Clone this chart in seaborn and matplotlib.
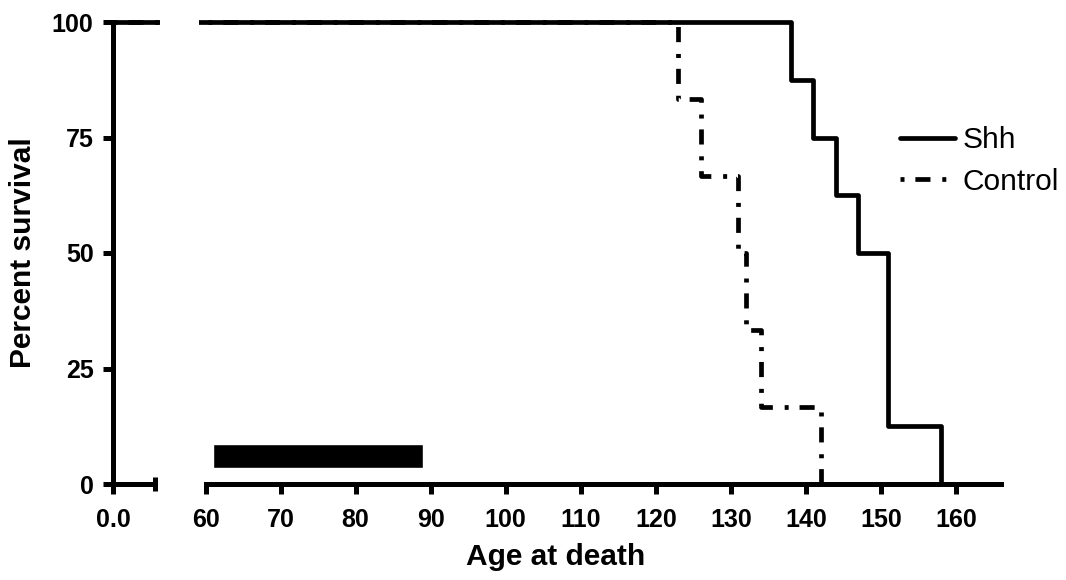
import numpy as np
import pandas as pd
import matplotlib
matplotlib.use("Agg")
import matplotlib.pyplot as plt
from matplotlib.lines import Line2D
import seaborn as sns

# Kaplan-Meier steps (day of death, percent surviving after that day)
shh_days = [0, 138, 141, 144, 147, 151, 158]
shh_pct = [100, 87.5, 75, 62.5, 50, 12.5, 0]
ctrl_days = [0, 123, 126, 131, 132, 134, 142]
ctrl_pct = [100, 83.3, 66.7, 50, 33.3, 16.7, 0]

# treatment window bar
bar_start = 61
bar_end = 89
bar_low = 3.5
bar_high = 8.7

y_ticks = [0, 25, 50, 75, 100]
x_ticks = [60, 70, 80, 90, 100, 110, 120, 130, 140, 150, 160]

sns.set_style("ticks")
plt.rcParams["font.family"] = ["Liberation Sans", "DejaVu Sans"]

LW = 3.4
AX_LW = 3.6
CTRL_DASH = (0, (0.85, 2.3, 3.2, 2.5))
TICK_FS = 18
LABEL_FS = 21.5

shh = pd.DataFrame({"day": shh_days, "pct": shh_pct})
ctrl = pd.DataFrame({"day": ctrl_days, "pct": ctrl_pct})

W, H = 1066, 580
fig = plt.figure(figsize=(W / 100, H / 100), dpi=100)

# pixel layout -> figure fractions
y_lo, y_hi = -2, 102
px_top = 22 - 2 * 4.62
px_bot = 484 + 2 * 4.62
bottom = (H - px_bot) / H
height = (px_bot - px_top) / H

ax_l = fig.add_axes([113 / W, bottom, 47 / W, height])
ax_r = fig.add_axes([199 / W, bottom, 802 / W, height])

for ax in (ax_l, ax_r):
    sns.lineplot(data=ctrl, x="day", y="pct", ax=ax, color="black", lw=LW,
                 linestyle=CTRL_DASH, drawstyle="steps-post", estimator=None,
                 sort=False, legend=False, zorder=2)
    sns.lineplot(data=shh, x="day", y="pct", ax=ax, color="black", lw=LW,
                 drawstyle="steps-post", estimator=None, sort=False,
                 legend=False, zorder=3)
    ax.set_ylim(y_lo, y_hi)
    ax.set_xlabel("")
    ax.set_ylabel("")
    for s in ("top", "right"):
        ax.spines[s].set_visible(False)
    for s in ("bottom", "left"):
        ax.spines[s].set_linewidth(AX_LW)
        ax.spines[s].set_color("black")
    ax.spines["bottom"].set_position(("data", 0))
    ax.tick_params(which="major", direction="out", length=7, width=AX_LW,
                   labelsize=TICK_FS, color="black", labelcolor="black")
    ax.tick_params(axis="x", which="major", pad=10)
    ax.tick_params(axis="y", which="major", pad=7)
    ax.tick_params(which="minor", direction="inout", length=10, width=AX_LW,
                   color="black")

# left segment: y axis + short x stub
ax_l.set_xlim(0, 1)
ax_l.spines["bottom"].set_bounds(0, 0.894)
ax_l.spines["left"].set_bounds(0, 100)
ax_l.set_xticks([0])
ax_l.set_xticklabels(["0.0"], fontweight="bold", fontsize=TICK_FS)
ax_l.set_xticks([0.894], minor=True)
ax_l.set_yticks(y_ticks)
ax_l.set_yticklabels([str(v) for v in y_ticks], fontweight="bold", fontsize=TICK_FS)
ax_l.set_ylabel("Percent survival", fontsize=LABEL_FS, fontweight="bold",
                labelpad=11, color="black")

# right segment
ax_r.set_xlim(59.13, 166)
ax_r.spines["left"].set_visible(False)
ax_r.spines["bottom"].set_bounds(60, 166)
ax_r.tick_params(axis="y", left=False, labelleft=False)
ax_r.set_xticks(x_ticks)
ax_r.set_xticklabels([str(v) for v in x_ticks], fontweight="bold", fontsize=TICK_FS)
ax_r.set_xticks([60], minor=True)
ax_r.barh(y=(bar_low + bar_high) / 2, width=bar_end - bar_start, left=bar_start,
          height=bar_high - bar_low, color="black", zorder=4)

fig.text(556 / W, (H - 557) / H, "Age at death", ha="center", va="center",
         fontsize=LABEL_FS, fontweight="bold", color="black")

handles = [Line2D([], [], color="black", lw=LW),
           Line2D([], [], color="black", lw=LW, linestyle=CTRL_DASH)]
leg = fig.legend(handles, ["Shh", "Control"], loc="center left",
                 bbox_to_anchor=(900 / W, (H - 161) / H), frameon=False,
                 fontsize=LABEL_FS, handlelength=1.85, handletextpad=0.25,
                 labelspacing=0.45, borderpad=0, borderaxespad=0)
for t in leg.get_texts():
    t.set_color("black")

fig.savefig("out.png", dpi=100)
